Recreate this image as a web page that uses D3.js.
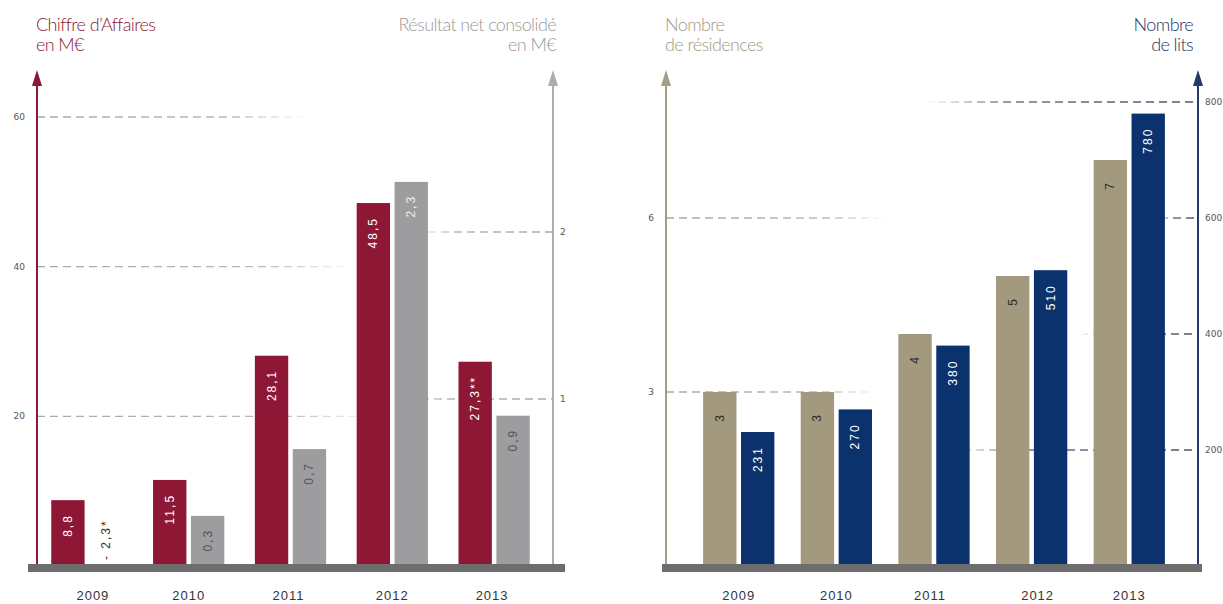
<!DOCTYPE html>
<html>
<head>
<meta charset="utf-8">
<script src="https://cdn.jsdelivr.net/npm/d3@7"></script>
<style>
  body { margin: 0; background: #fff; }
  svg { display: block; }
  .title { font-family: Lato, "Open Sans", sans-serif; font-weight: 300; font-size: 18px; letter-spacing: -0.6px; }
  .tick-label { font-family: "DejaVu Sans", sans-serif; font-size: 9px; fill: #555; }
  .year { font-family: "Liberation Sans", sans-serif; font-size: 13px; fill: #333; letter-spacing: 1px; }
  .bar-label { font-family: "Liberation Sans", sans-serif; font-size: 12px; letter-spacing: 2px; }
</style>
</head>
<body>
<div id="chart"></div>
<script>
// data
var years = ['2009', '2010', '2011', '2012', '2013'];

var caValues = [8.8, 11.5, 28.1, 48.5, 27.3];
var caLabels = ['8,8', '11,5', '28,1', '48,5', '27,3**'];
var caTicks = [20, 40, 60];

var resultValues = [-2.3, 0.3, 0.7, 2.3, 0.9];
var resultLabels = ['- 2,3*', '0,3', '0,7', '2,3', '0,9'];
var resultTicks = [1, 2];

var residenceValues = [3, 3, 4, 5, 7];
var residenceLabels = ['3', '3', '4', '5', '7'];
var residenceTicks = [3, 6];

var litsValues = [231, 270, 380, 510, 780];
var litsLabels = ['231', '270', '380', '510', '780'];
var litsTicks = [200, 400, 600, 800];

var width = 1223, height = 604;

var svg = d3.select('#chart').append('svg')
    .attr('width', width)
    .attr('height', height);

var defs = svg.append('defs');

function fadeGradient(id, x1, x2, color) {
    var g = defs.append('linearGradient')
        .attr('id', id)
        .attr('gradientUnits', 'userSpaceOnUse')
        .attr('x1', x1).attr('x2', x2).attr('y1', 0).attr('y2', 0);
    g.append('stop').attr('offset', '0%').attr('stop-color', color).attr('stop-opacity', 1);
    g.append('stop').attr('offset', '70%').attr('stop-color', color).attr('stop-opacity', 0.8);
    g.append('stop').attr('offset', '100%').attr('stop-color', color).attr('stop-opacity', 0);
}

function drawPanel(p) {
    var g = svg.append('g');

    var x = d3.scaleBand().domain(years).range(p.xRange).paddingInner(p.padInner).paddingOuter(p.padOuter);
    var xs = d3.scaleBand().domain([0, 1]).range([0, x.bandwidth()]).paddingInner(0.12);

    var yL = d3.scaleLinear().domain(p.left.domain).range([p.baseY, p.left.topY]);
    var yR = d3.scaleLinear().domain(p.right.domain).range([p.baseY, p.right.topY]);

    // gridlines (faded, dashed)
    p.left.ticks.forEach(function (t, i) {
        var ext = p.left.gridTo[i];
        var id = p.id + 'gl' + i;
        fadeGradient(id, p.left.axisX, ext, '#a8a8a8');
        g.append('line')
            .attr('x1', p.left.axisX).attr('x2', ext)
            .attr('y1', yL(t)).attr('y2', yL(t))
            .attr('stroke', 'url(#' + id + ')')
            .attr('stroke-width', 1.3)
            .attr('stroke-dasharray', '8,5');
    });
    p.right.ticks.forEach(function (t, i) {
        var ext = p.right.gridFrom[i];
        var id = p.id + 'gr' + i;
        fadeGradient(id, p.right.axisX, ext, p.right.gridColor);
        g.append('line')
            .attr('x1', ext).attr('x2', p.right.axisX)
            .attr('y1', yR(t)).attr('y2', yR(t))
            .attr('stroke', 'url(#' + id + ')')
            .attr('stroke-width', 1.3)
            .attr('stroke-dasharray', '8,5');
    });

    // bars
    var series = [
        {values: p.left.values, labels: p.left.labels, y: yL, color: p.left.barColor, text: p.left.textColor, off: p.left.labelOffset},
        {values: p.right.values, labels: p.right.labels, y: yR, color: p.right.barColor, text: p.right.textColor, off: p.right.labelOffset}
    ];
    series.forEach(function (s, si) {
        var groups = g.selectAll('.bar' + si)
            .data(years.map(function (yr, i) { return {year: yr, v: s.values[i], label: s.labels[i], i: i}; }))
            .enter().append('g');

        groups.filter(function (d) { return d.v > 0; })
            .append('rect')
            .attr('x', function (d) { return x(d.year) + xs(si); })
            .attr('y', function (d) { return s.y(d.v); })
            .attr('width', xs.bandwidth())
            .attr('height', function (d) { return p.baseY - s.y(d.v); })
            .attr('fill', s.color);

        groups.append('text')
            .attr('class', 'bar-label')
            .attr('transform', function (d) {
                var cx = x(d.year) + xs(si) + xs.bandwidth() / 2 + 4;
                var cy = d.v > 0 ? s.y(d.v) + s.off : p.baseY - 6;
                return 'translate(' + cx + ',' + cy + ') rotate(-90)';
            })
            .attr('text-anchor', function (d) { return d.v > 0 ? 'end' : 'start'; })
            .attr('fill', function (d) {
                if (d.v <= 0) return '#333';
                return typeof s.text === 'function' ? s.text(d) : s.text;
            })
            .text(function (d) { return d.label; });
    });

    // axis lines with arrows
    [p.left, p.right].forEach(function (a) {
        g.append('line')
            .attr('x1', a.axisX).attr('x2', a.axisX)
            .attr('y1', 80).attr('y2', p.baseY)
            .attr('stroke', a.axisColor).attr('stroke-width', 2);
        g.append('path')
            .attr('d', d3.line()([[a.axisX - 5, 86], [a.axisX, 70], [a.axisX + 5, 86]]) + 'Z')
            .attr('fill', a.axisColor);
    });

    // tick labels
    g.selectAll('.tl').data(p.left.ticks).enter().append('text')
        .attr('class', 'tick-label')
        .attr('x', p.left.axisX - 12).attr('y', function (d) { return yL(d) + 3; })
        .attr('text-anchor', 'end')
        .text(function (d) { return d; });
    g.selectAll('.tr').data(p.right.ticks).enter().append('text')
        .attr('class', 'tick-label')
        .attr('x', p.right.axisX + 7).attr('y', function (d) { return yR(d) + 3; })
        .attr('text-anchor', 'start')
        .text(function (d) { return d; });

    // baseline
    g.append('rect')
        .attr('x', p.baseX[0]).attr('y', p.baseY - 2)
        .attr('width', p.baseX[1] - p.baseX[0]).attr('height', 8)
        .attr('fill', '#6d6d6d');

    // year labels
    g.selectAll('.year').data(years).enter().append('text')
        .attr('class', 'year')
        .attr('x', function (d, i) { return x(d) + x.bandwidth() / 2 + p.yearShift[i]; })
        .attr('y', 600)
        .attr('text-anchor', 'middle')
        .text(function (d) { return d; });

    // titles
    p.left.title.forEach(function (t, i) {
        g.append('text').attr('class', 'title')
            .attr('x', p.left.axisX - 1).attr('y', 31 + i * 20)
            .attr('fill', p.left.titleColor)
            .text(t);
    });
    p.right.title.forEach(function (t, i) {
        g.append('text').attr('class', 'title')
            .attr('x', p.right.axisX + p.right.titleShift).attr('y', 31 + i * 20)
            .attr('text-anchor', 'end')
            .attr('fill', p.right.titleColor)
            .text(t);
    });
}

drawPanel({
    id: 'p1',
    xRange: [37, 544], padInner: 0.3, padOuter: 0.14,
    baseY: 566, baseX: [28, 565],
    yearShift: [6, 0, -2, 0, -2],
    left: {
        domain: [0, 60], topY: 117, ticks: caTicks, gridTo: [385, 360, 310],
        values: caValues, labels: caLabels, labelOffset: 14,
        axisX: 37, axisColor: '#8a1a33', barColor: '#8e1736', textColor: '#fff',
        title: ["Chiffre d’Affaires", 'en M€'], titleColor: '#861a31'
    },
    right: {
        domain: [0, 2], topY: 232, ticks: resultTicks, gridFrom: [395, 415], gridColor: '#a8a8a8',
        values: resultValues, labels: resultLabels, labelOffset: 13,
        axisX: 553, axisColor: '#acacac', barColor: '#9d9d9f', titleShift: 3,
        textColor: function (d) { return d.v > 2 ? '#eee' : '#555'; },
        title: ['Résultat net consolidé', 'en M€'], titleColor: '#9a9a9a'
    }
});

drawPanel({
    id: 'p2',
    xRange: [666, 1202], padInner: 0.27, padOuter: 0.38,
    baseY: 566, baseX: [662, 1202],
    yearShift: [0, 0, -4, 6, 0],
    left: {
        domain: [0, 6], topY: 218, ticks: residenceTicks, gridTo: [880, 890],
        values: residenceValues, labels: residenceLabels, labelOffset: 21,
        axisX: 666, axisColor: '#a69d88', barColor: '#a2997f', textColor: '#2a2a2a',
        title: ['Nombre', 'de résidences'], titleColor: '#a3987f'
    },
    right: {
        domain: [0, 800], topY: 102, ticks: litsTicks, gridFrom: [950, 1080, 1160, 925], gridColor: '#4a5470',
        values: litsValues, labels: litsLabels, labelOffset: 14,
        axisX: 1198, axisColor: '#253a6b', barColor: '#0c326d', textColor: '#fff', titleShift: -5,
        title: ['Nombre', 'de lits'], titleColor: '#1d3566'
    }
});
</script>
</body>
</html>
